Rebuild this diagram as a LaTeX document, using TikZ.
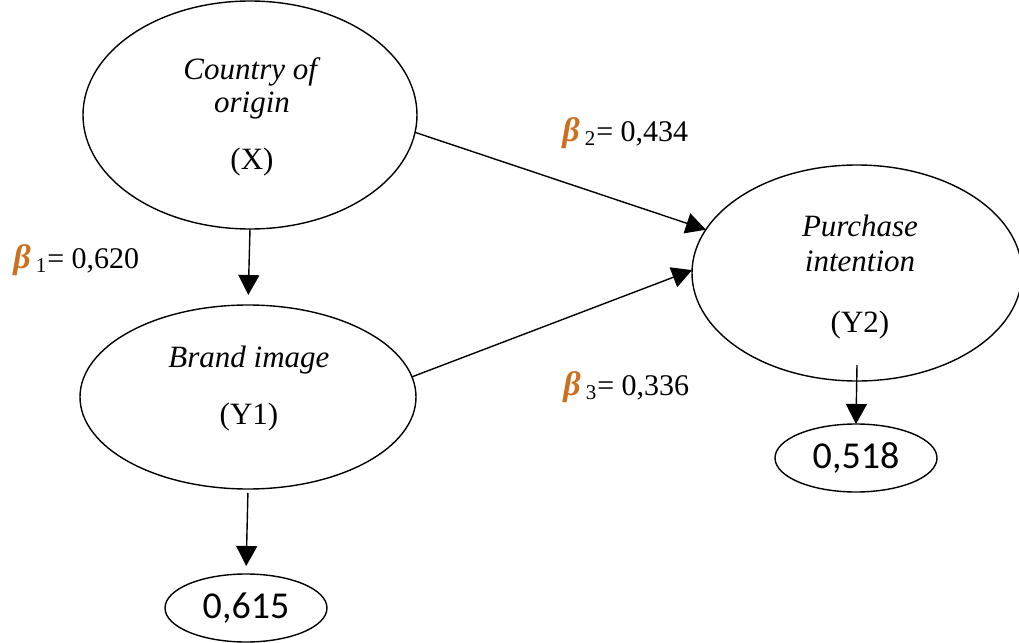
\documentclass[tikz,border=0pt]{standalone}
\usepackage{fontspec}
\setmainfont{Liberation Serif}
\newfontfamily\numfont{Carlito}
\usetikzlibrary{arrows.meta,shapes.geometric}
\definecolor{betacol}{RGB}{204,112,32}
\newcommand{\coefb}[2]{{\color{betacol}\fontsize{17}{17}\selectfont\textbf{\textit{β}}}\,\textsubscript{#1}= #2}

\begin{document}
\begin{tikzpicture}[x=0.5pt,y=-0.5pt]
\tikzset{latent/.style = {shape=ellipse,draw,line width=0.7pt,inner sep=0pt,outer sep=0pt}}
\tikzset{score/.style = {shape=ellipse,draw,line width=0.7pt,inner sep=0pt,outer sep=0pt,minimum width=81pt,minimum height=34pt,font=\numfont\fontsize{19}{22}\selectfont}}
\tikzset{vartext/.style = {align=center,inner sep=0pt,font=\fontsize{15.5}{16.5}\selectfont}}
\tikzset{coef/.style = {anchor=base west,inner sep=0pt,font=\fontsize{15}{17}\selectfont}}
\tikzset{edge/.style = {-{Triangle[length=10pt,width=10.5pt]},line width=0.7pt}}
\useasboundingbox (0,0) rectangle (1019,643);
% latent variables
\node[latent,minimum width=167pt,minimum height=114pt] (x) at (250,115) {};
\node[latent,minimum width=168pt,minimum height=92pt] (y1) at (248,397) {};
\node[latent,minimum width=165pt,minimum height=108pt] (y2) at (857,273) {};
\node[vartext] (xt) at (252,117) {\textit{Country of}\\\textit{origin}\\[12pt](X)};
\node[vartext] (y1t) at (249,389) {\textit{Brand image}\\[12pt](Y1)};
\node[vartext] (y2t) at (860,277) {\textit{Purchase}\\[1pt]\textit{intention}\\[14pt](Y2)};
% r-square
\node[score] (e615) at (246,608) {0,615};
\node[score] (e518) at (856,458) {0,518};
% paths
\draw[edge,shorten >=5pt] (x.south) -- (y1.north);
\draw[edge] (x.-6) -- (y2.164);
\draw[edge] (y1.7) -- (y2.179);
\draw[edge,shorten <=2pt,shorten >=4pt] (y1.south) -- (e615.north);
\draw[edge] ([yshift=8pt]y2.south) -- (e518.north);
% coefficients
\node[coef] (b1) at (13,268) {\coefb{1}{0,620}};
\node[coef] (b2) at (562,141) {\coefb{2}{0,434}};
\node[coef] (b3) at (563,395) {\coefb{3}{0,336}};
\end{tikzpicture}
\end{document}
